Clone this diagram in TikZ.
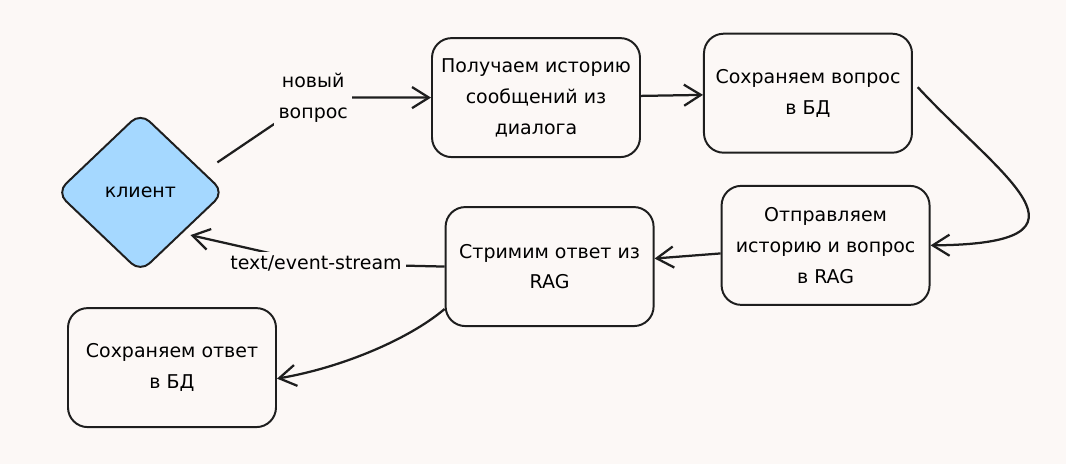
\documentclass[tikz,border=0pt]{standalone}
\usepackage{fontspec}
\setmainfont{DejaVu Sans}
\usetikzlibrary{shapes.geometric, positioning, arrows.meta}
\definecolor{paper}{HTML}{FCF8F6}
\definecolor{ink}{HTML}{1E1E1E}
\definecolor{clientblue}{HTML}{A5D8FF}
\tikzset{
    >={Straight Barb[length=12pt,width=15pt]}, % open arrow heads
    block/.style={draw=ink, line width=1.4pt, rounded corners=14pt, minimum width=5.2cm, minimum height=2.975cm, align=center, font=\fontsize{13.5}{22}\selectfont}, % the process boxes
    client/.style={diamond, draw=ink, fill=clientblue, line width=1.4pt, rounded corners=9pt, minimum width=4.2cm, minimum height=4cm, inner sep=0pt, font=\fontsize{13.5}{22}\selectfont}, % the client
    flow/.style={->, draw=ink, line width=1.6pt}, % the connectors
    edgelabel/.style={fill=paper, align=center, inner sep=3pt, font=\fontsize{13.5}{22}\selectfont}, % text sitting on a connector
}

\begin{document}
\begin{tikzpicture}
    \useasboundingbox (0,0) rectangle (26.65,11.6);
    \fill[paper] (0,0) rectangle (26.65,11.6);
    \node[client] (klient) at (3.51,6.79) {клиент};
    \node[block] (hist) at (13.4,9.16) {Получаем историю\\сообщений из\\диалога};
    \node[block, right=1.55cm of hist, yshift=0.11cm] (saveq) {Сохраняем вопрос\\в БД};
    \node[block, below=0.78cm of saveq, xshift=0.44cm] (send) {Отправляем\\историю и вопрос\\в RAG};
    \node[block, left=1.65cm of send, yshift=-0.53cm] (stream) {Стримим ответ из\\RAG};
    \node[block] (savea) at (4.3,2.41) {Сохраняем ответ\\в БД};
    \coordinate (qbend) at (7.83,9.16);
    \coordinate (sbend) at (7.9,5.01);
    \draw[flow] ([shift={(-0.2,0.75)}]klient.east) -- (qbend) node[edgelabel] {новый\\вопрос} -- (hist.west);
    \draw[flow] (hist) edge (saveq)
        (send) edge (stream);
    \draw[flow] ([shift={(0.12,0.15)}]saveq.east) .. controls (25,7.2) and (27.8,5.5) .. (send.east);
    \draw[flow] (stream.west) -- (sbend) node[edgelabel] {text/event-stream} -- ([shift={(0.12,-0.12)}]klient.-40);
    \draw[flow] (stream.202) .. controls (10.2,3.1) and (8.5,2.4) .. (savea.-6);
\end{tikzpicture}
\end{document}
